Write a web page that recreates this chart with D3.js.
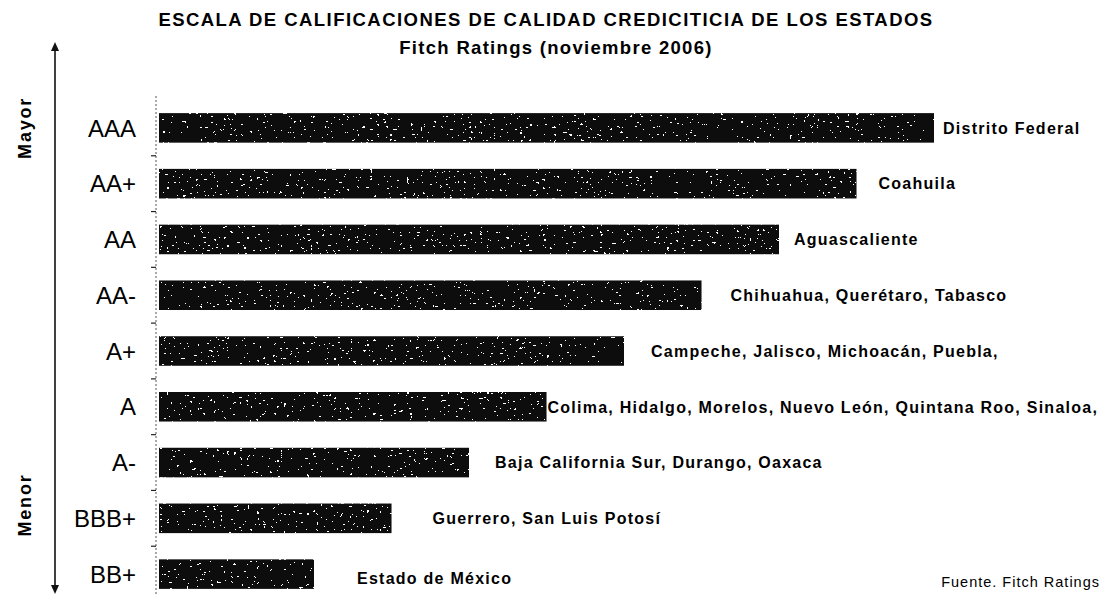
<!DOCTYPE html>
<html>
<head>
<meta charset="utf-8">
<script src="https://cdn.jsdelivr.net/npm/d3@7"></script>
<style>
  html, body { margin: 0; padding: 0; background: #fff; }
  svg { display: block; font-family: "Liberation Sans", Arial, sans-serif; }
</style>
</head>
<body>
<svg id="chart" width="1105" height="594"></svg>
<script>
// Credit rating scale, from highest to lowest
const ratings = ["AAA", "AA+", "AA", "AA-", "A+", "A", "A-", "BBB+", "BB+"];
// Position of each rating on the scale (BB+ = 2 ... AAA = 10)
const scores = [10, 9, 8, 7, 6, 5, 4, 3, 2];
// States holding each rating
const states = [
  "Distrito Federal",
  "Coahuila",
  "Aguascaliente",
  "Chihuahua, Querétaro, Tabasco",
  "Campeche, Jalisco, Michoacán, Puebla,",
  "Colima, Hidalgo, Morelos, Nuevo León, Quintana Roo, Sinaloa,",
  "Baja California Sur, Durango, Oaxaca",
  "Guerrero, San Luis Potosí",
  "Estado de México"
];

// layout: gap between a bar's end and its state label
const labelGaps = [9, 22, 15, 29, 27, 1, 26, 41, 43];

const svg = d3.select("#chart");

// Speckled fill for the bars
const defs = svg.append("defs");
const grain = defs.append("filter").attr("id", "grain")
  .attr("x", 0).attr("y", 0).attr("width", 1).attr("height", 1)
  .attr("filterUnits", "objectBoundingBox");
grain.append("feTurbulence")
  .attr("type", "fractalNoise").attr("baseFrequency", "0.3 0.38")
  .attr("numOctaves", 2).attr("seed", 11).attr("result", "noise");
grain.append("feColorMatrix").attr("in", "noise").attr("type", "matrix")
  .attr("values", "0 0 0 0 1  0 0 0 0 1  0 0 0 0 1  7 0 0 0 -4.6")
  .attr("result", "spots");
grain.append("feComponentTransfer").attr("in", "spots").attr("result", "hard")
  .append("feFuncA").attr("type", "discrete").attr("tableValues", "0 1");
grain.append("feComposite").attr("in", "hard").attr("in2", "SourceGraphic")
  .attr("operator", "in").attr("result", "specks");
const merge = grain.append("feMerge");
merge.append("feMergeNode").attr("in", "SourceGraphic");
merge.append("feMergeNode").attr("in", "specks");

// Scales
const y = d3.scaleBand()
  .domain(ratings)
  .range([100, 602])
  .paddingInner(0.47)
  .paddingOuter(0.235);

const x = d3.scaleLinear()
  .domain([0, 10])
  .range([159, 934]);

// Title
svg.append("text")
  .attr("x", 546).attr("y", 26)
  .attr("text-anchor", "middle")
  .attr("font-size", 18.5).attr("font-weight", "bold")
  .attr("letter-spacing", 1.45)
  .text("ESCALA DE CALIFICACIONES DE CALIDAD CREDICITICIA DE LOS ESTADOS");
svg.append("text")
  .attr("x", 556).attr("y", 54)
  .attr("text-anchor", "middle")
  .attr("font-size", 18.5).attr("font-weight", "bold")
  .attr("letter-spacing", 1.3)
  .text("Fitch Ratings (noviembre 2006)");

// Vertical arrow from "Menor" to "Mayor"
const arrowX = 55;
svg.append("line")
  .attr("x1", arrowX).attr("x2", arrowX)
  .attr("y1", 48).attr("y2", 589)
  .attr("stroke", "#111").attr("stroke-width", 1.6);
svg.append("path")
  .attr("d", d3.line()([[arrowX - 4, 51], [arrowX, 42], [arrowX + 4, 51]]) + "Z")
  .attr("fill", "#111");
svg.append("path")
  .attr("d", d3.line()([[arrowX - 4, 585], [arrowX, 594], [arrowX + 4, 585]]) + "Z")
  .attr("fill", "#111");

svg.append("text")
  .attr("transform", `translate(31,${y("AAA") + y.bandwidth() / 2}) rotate(-90)`)
  .attr("text-anchor", "middle")
  .attr("font-size", 18).attr("font-weight", "bold")
  .attr("letter-spacing", 1.8)
  .text("Mayor");
svg.append("text")
  .attr("transform", `translate(31,505) rotate(-90)`)
  .attr("text-anchor", "middle")
  .attr("font-size", 18).attr("font-weight", "bold")
  .attr("letter-spacing", 1.8)
  .text("Menor");

// Category axis: faint dotted baseline with ticks between the bars
const axisX = 156;
const axisG = svg.append("g").attr("transform", `translate(${axisX},0)`);
axisG.append("line")
  .attr("y1", 96).attr("y2", 594)
  .attr("stroke", "#555").attr("stroke-width", 1)
  .attr("stroke-dasharray", "2,2");
const boundaries = ratings.map(r => y(r) - y.step() * y.paddingInner() / 2);
axisG.selectAll("line.tick")
  .data(boundaries.slice(1))
  .join("line")
  .attr("class", "tick")
  .attr("x1", -5).attr("x2", 0)
  .attr("y1", d => d).attr("y2", d => d)
  .attr("stroke", "#222").attr("stroke-width", 1.2);

// Rating labels
svg.selectAll("text.rating")
  .data(ratings)
  .join("text")
  .attr("class", "rating")
  .attr("x", 136)
  .attr("y", d => y(d) + y.bandwidth() / 2)
  .attr("dy", "0.36em")
  .attr("text-anchor", "end")
  .attr("font-size", 24)
  .text(d => d);

// Bars
const rows = ratings.map((r, i) => ({ rating: r, score: scores[i], states: states[i], gap: labelGaps[i] }));
svg.selectAll("rect.bar")
  .data(rows)
  .join("rect")
  .attr("class", "bar")
  .attr("x", x(0))
  .attr("y", d => y(d.rating))
  .attr("width", d => x(d.score) - x(0))
  .attr("height", y.bandwidth())
  .attr("fill", "#0d0d0d")
  .attr("filter", "url(#grain)");

// State labels
svg.selectAll("text.states")
  .data(rows)
  .join("text")
  .attr("class", "states")
  .attr("x", d => x(d.score) + d.gap)
  .attr("y", d => y(d.rating) + y.bandwidth() / 2 + (d.rating === "BB+" ? 4 : 0))
  .attr("dy", "0.36em")
  .attr("font-size", 16).attr("font-weight", "bold")
  .attr("letter-spacing", 1.25)
  .text(d => d.states);

// Source note
svg.append("text")
  .attr("x", 1100).attr("y", 587)
  .attr("text-anchor", "end")
  .attr("font-size", 14.5)
  .attr("letter-spacing", 1.0)
  .text("Fuente. Fitch Ratings");
</script>
</body>
</html>
